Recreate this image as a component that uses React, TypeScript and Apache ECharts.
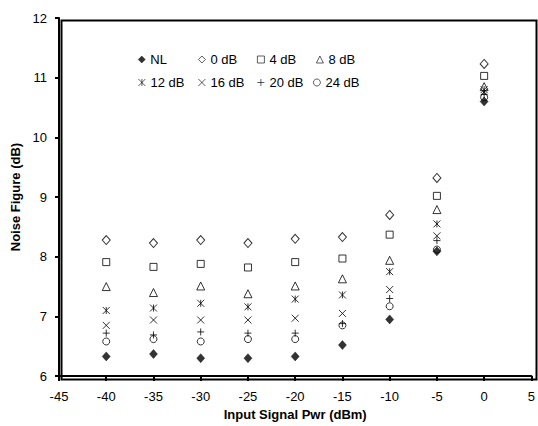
import React, { useEffect, useRef } from "react";
import * as echarts from "echarts";

const xValues = [-40, -35, -30, -25, -20, -15, -10, -5, 0];
const seriesNames = ["NL", "0 dB", "4 dB", "8 dB", "12 dB", "16 dB", "20 dB", "24 dB"];
const nl = [6.33, 6.37, 6.3, 6.3, 6.33, 6.52, 6.95, 8.09, 10.6];
const db0 = [8.28, 8.23, 8.28, 8.23, 8.3, 8.33, 8.7, 9.32, 11.23];
const db4 = [7.91, 7.83, 7.88, 7.82, 7.91, 7.97, 8.37, 9.02, 11.03];
const db8 = [7.5, 7.4, 7.51, 7.38, 7.51, 7.63, 7.94, 8.79, 10.85];
const db12 = [7.1, 7.14, 7.22, 7.16, 7.29, 7.36, 7.75, 8.55, 10.8];
const db16 = [6.85, 6.94, 6.94, 6.94, 6.97, 7.05, 7.45, 8.35, 10.76];
const db20 = [6.72, 6.69, 6.74, 6.72, 6.72, 6.88, 7.3, 8.27, 10.72];
const db24 = [6.58, 6.62, 6.58, 6.62, 6.62, 6.85, 7.17, 8.12, 10.67];

const FONT = "'Liberation Sans', Arial, sans-serif";

const asterisk = "path://M0 0 L10 10 M10 0 L0 10 M5 0 L5 10";
const cross = "path://M0 0 L10 10 M10 0 L0 10";
const plus = "path://M5 0 L5 10 M0 5 L10 5";

const openStyle = { color: "rgba(0,0,0,0)", borderColor: "#000", borderWidth: 1 };

const symbolDefs: any[] = [
  { symbol: "diamond", size: [8, 9], style: { color: "#000", borderColor: "#000", borderWidth: 0.5 } },
  { symbol: "diamond", size: [8, 9], style: openStyle },
  { symbol: "rect", size: 7, style: openStyle },
  { symbol: "triangle", size: 8, style: openStyle },
  { symbol: asterisk, size: 7, style: openStyle },
  { symbol: cross, size: 7, style: openStyle },
  { symbol: plus, size: 7, style: openStyle },
  { symbol: "circle", size: 7, style: openStyle },
];

const allData = [nl, db0, db4, db8, db12, db16, db20, db24];

const legendPos = [
  { left: 138, top: 53 },
  { left: 198, top: 53 },
  { left: 257, top: 53 },
  { left: 316, top: 53 },
  { left: 138, top: 76 },
  { left: 198, top: 76 },
  { left: 257, top: 76 },
  { left: 313, top: 76 },
];

export default function App() {
  const ref = useRef<HTMLDivElement>(null);
  useEffect(() => {
    if (!ref.current) return;
    const chart = echarts.init(ref.current, undefined, { renderer: "svg" });
    const series = seriesNames.map((name, i) => ({
      name,
      type: "scatter",
      data: xValues.map((x, j) => [x, allData[i][j]]),
      symbol: symbolDefs[i].symbol,
      symbolSize: symbolDefs[i].size,
      itemStyle: symbolDefs[i].style,
      z: 2 + (i === 0 ? 10 : 0),
    }));
    const legends = seriesNames.map((name, i) => ({
      data: [name],
      left: legendPos[i].left,
      top: legendPos[i].top,
      padding: 0,
      itemWidth: 7,
      itemHeight: 7,
      selectedMode: false,
      itemStyle: { ...symbolDefs[i].style, borderWidth: i === 0 ? 0.5 : 0.8 },
      textStyle: { fontFamily: FONT, fontSize: 13, color: "#000" },
    }));
    chart.setOption({
      animation: false,
      backgroundColor: "#fff",
      grid: {
        left: 59,
        top: 18,
        right: 4,
        bottom: 49,
        show: false,
        containLabel: false,
      },
      legend: legends,
      xAxis: {
        type: "value",
        min: -45,
        max: 5,
        interval: 5,
        name: "Input Signal Pwr (dBm)",
        nameLocation: "middle",
        nameGap: 30,
        nameTextStyle: { fontFamily: FONT, fontSize: 13, fontWeight: "bold", color: "#000" },
        axisLine: { show: true, onZero: false, lineStyle: { color: "#000", width: 2 } },
        axisTick: { show: true, length: 5, lineStyle: { color: "#000", width: 2 } },
        axisLabel: { fontFamily: FONT, fontSize: 13, color: "#000", margin: 14 },
        splitLine: { show: false },
      },
      yAxis: {
        type: "value",
        min: 6,
        max: 12,
        interval: 1,
        name: "Noise Figure (dB)",
        nameLocation: "middle",
        nameGap: 32,
        nameTextStyle: { fontFamily: FONT, fontSize: 13, fontWeight: "bold", color: "#000" },
        axisLine: { show: true, onZero: false, lineStyle: { color: "#000", width: 2 } },
        axisTick: { show: true, length: 4, lineStyle: { color: "#000", width: 2 } },
        axisLabel: { fontFamily: FONT, fontSize: 13, color: "#000", margin: 12 },
        splitLine: { show: false },
      },
      graphic: [
        {
          type: "rect",
          left: 59,
          top: 18,
          shape: { width: 475, height: 359 },
          style: { fill: "none", stroke: "#000", lineWidth: 2 },
          silent: true,
          z: 100,
        },
      ],
      series,
    });
    return () => chart.dispose();
  }, []);
  return <div ref={ref} style={{ width: 538, height: 426, position: "absolute", left: 0, top: 0 }} />;
}
